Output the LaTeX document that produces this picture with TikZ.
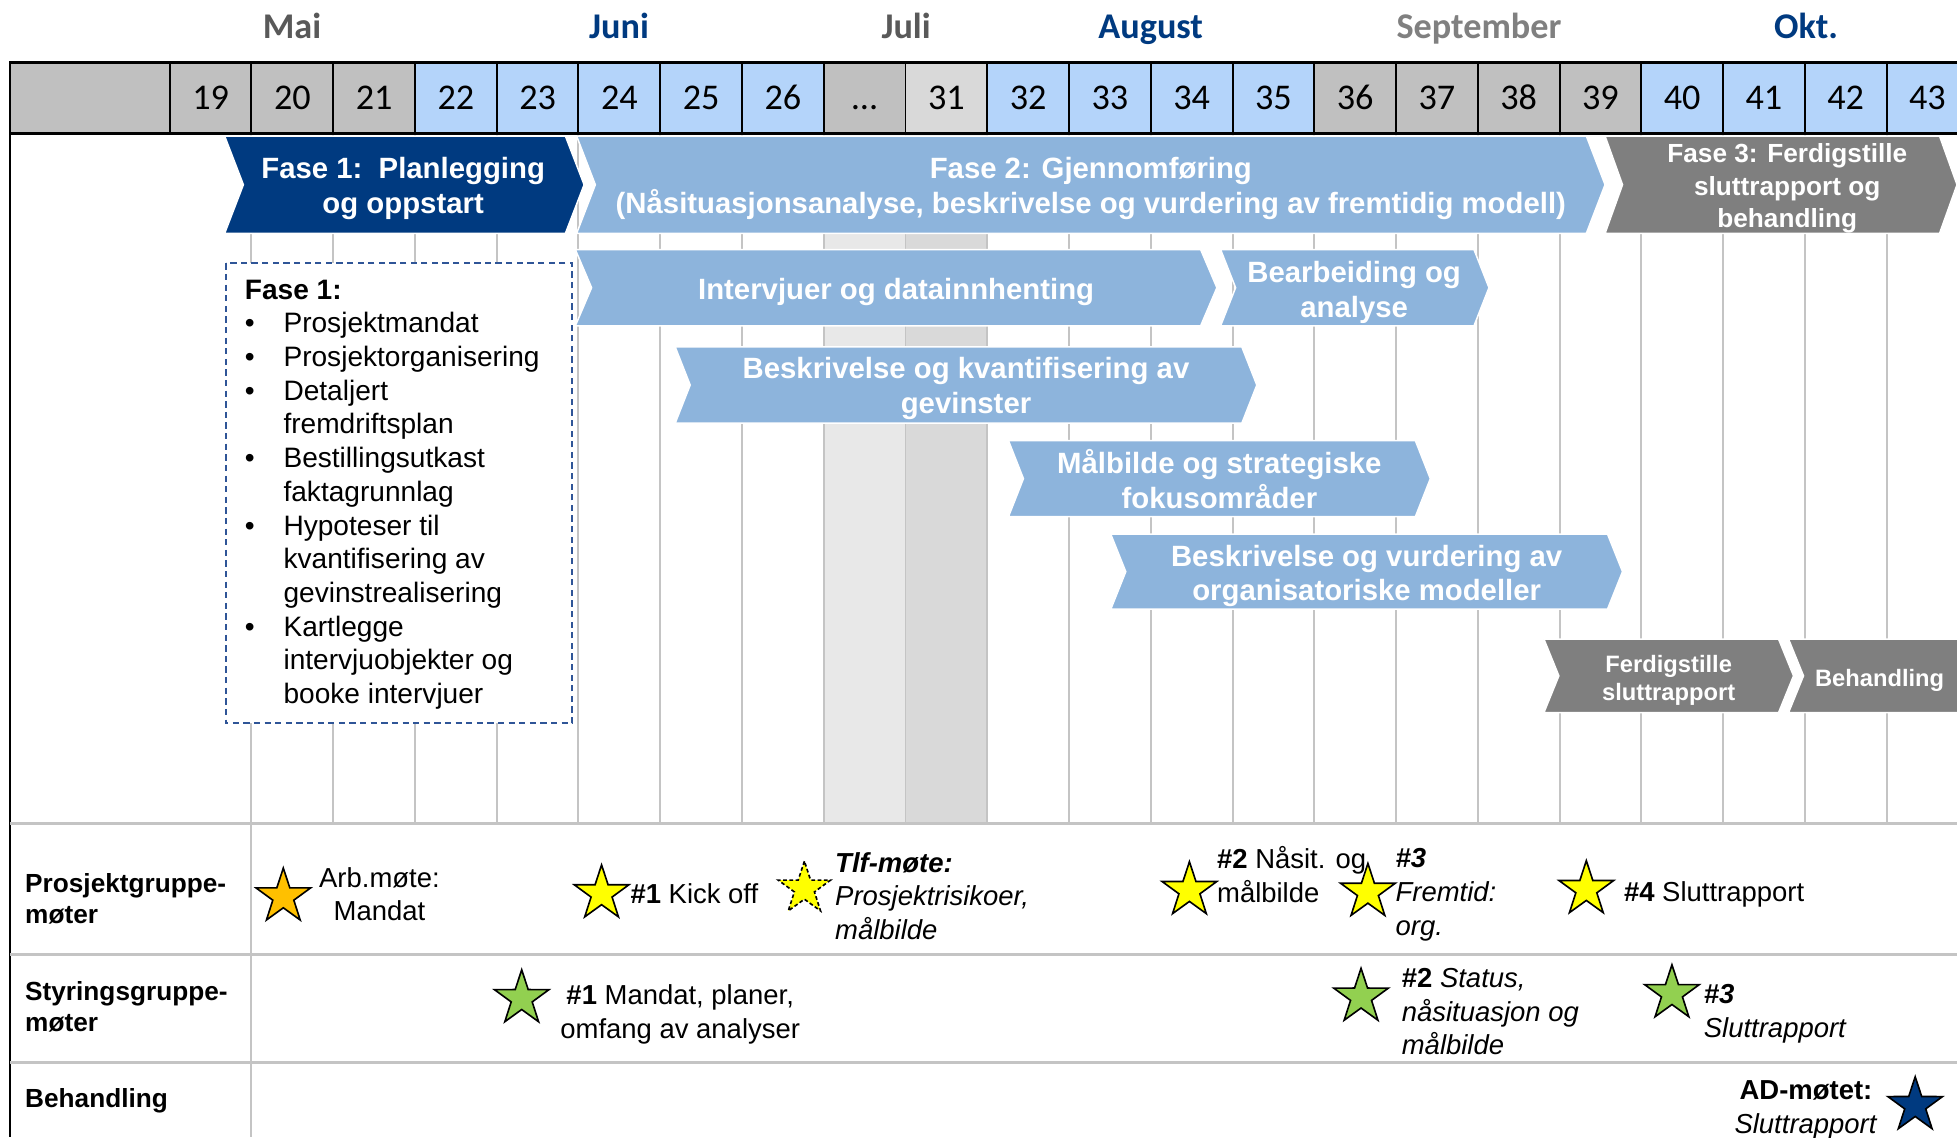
\documentclass[tikz,border=0pt]{standalone}
\usepackage{fontspec}
\setmainfont{Liberation Sans}
\newfontfamily\calibrifont{Carlito}
\usetikzlibrary{shapes.geometric}

\definecolor{PhaseBlue}{HTML}{003A80}
\definecolor{StepBlue}{HTML}{8DB4DC}
\definecolor{StepGray}{HTML}{7F7F7F}
\definecolor{CellGray}{HTML}{C0C0C0}
\definecolor{CellBlue}{HTML}{B4D4FA}
\definecolor{CellLight}{HTML}{D9D9D9}
\definecolor{BandLight}{HTML}{E8E8E8}
\definecolor{GridGray}{HTML}{C4C4C4}
\definecolor{MonthGray}{HTML}{595959}
\definecolor{MonthLight}{HTML}{808080}
\definecolor{StarOrange}{HTML}{FFC000}
\definecolor{StarYellow}{HTML}{FFFF00}
\definecolor{StarGreen}{HTML}{92D050}
\definecolor{BoxBlue}{HTML}{2F5597}

% arrow-shaped bar: left, right, top, bottom, tip depth, colour
\newcommand{\chevron}[6]{%
  \fill[#6, draw=white, line width=1.2] (#1,#3) -- (#2,#3) -- ({#2+#5},{(#3+#4)/2})
    -- (#2,#4) -- (#1,#4) -- ({#1+#5},{(#3+#4)/2}) -- cycle;}

\begin{document}
\begin{tikzpicture}[x=1pt, y=-1pt,
  month/.style={anchor=base, inner sep=0, font=\calibrifont\bfseries\fontsize{29}{34}\selectfont},
  weekno/.style={anchor=base, inner sep=0, font=\calibrifont\fontsize{29}{34}\selectfont},
  phase/.style={inner sep=0, text=white, align=center, font=\bfseries\fontsize{23.5}{28}\selectfont},
  phasesmall/.style={phase, font=\bfseries\fontsize{21}{26}\selectfont},
  stepsmall/.style={phase, font=\bfseries\fontsize{19}{22}\selectfont},
  rowlabel/.style={anchor=west, inner sep=0, align=left, font=\bfseries\fontsize{21}{25}\selectfont},
  meettext/.style={inner sep=0, font=\fontsize{22}{27}\selectfont},
  meetstar/.style={star, star points=5, star point ratio=2.6, minimum size=46, inner sep=0,
    draw=black, line width=1.3},
  grid/.style={GridGray, line width=1.6},
  rowline/.style={GridGray, line width=2.4}]

  \useasboundingbox (0,0) rectangle (1568,911);
  \clip (0,0) rectangle (1568,911);
  \fill[white] (0,0) rectangle (1568,911);

  % holiday weeks
  \fill[BandLight] (660,107) rectangle (725.5,660);
  \fill[CellLight] (725.5,107) rectangle (791,660);

  % week grid
  \foreach \k in {1,...,21}
    \draw[grid] ({201.5+65.5*\k},107) -- ({201.5+65.5*\k},660);
  \draw[grid] (201.5,107) -- (201.5,911);

  % header row with week numbers
  \draw[fill=CellGray, line width=1.6] (8,50) rectangle (136,107);
  \foreach \wk/\fillc [count=\i from 0] in {19/CellGray, 20/CellGray, 21/CellGray,
      22/CellBlue, 23/CellBlue, 24/CellBlue, 25/CellBlue, 26/CellBlue, {\ldots}/CellGray,
      31/CellLight, 32/CellBlue, 33/CellBlue, 34/CellBlue, 35/CellBlue, 36/CellGray,
      37/CellGray, 38/CellGray, 39/CellGray, 40/CellBlue, 41/CellBlue, 42/CellBlue, 43/CellBlue}
  {
    \pgfmathsetmacro\xl{136+65.5*\i}
    \draw[fill=\fillc, line width=1.6] (\xl,50) rectangle ++(65.5,57);
    \node[weekno] (wk\i) at (\xl+32.75,88) {\wk};
  }
  \draw[line width=2.6] (8,50) -- (1568,50);
  \draw[line width=2.6] (8,107) -- (1568,107);
  \draw[line width=1.4] (8,50) -- (8,911);

  % months
  \node[month, text=MonthGray] (mai) at (234,30.5) {Mai};
  \node[month, text=PhaseBlue] (juni) at (496,30.5) {Juni};
  \node[month, text=MonthGray] (juli) at (726,30.5) {Juli};
  \node[month, text=PhaseBlue] (august) at (922,30.5) {August};
  \node[month, text=MonthLight] (september) at (1185,30.5) {September};
  \node[month, text=PhaseBlue] (okt) at (1447,30.5) {Okt.};

  % phases
  \chevron{180}{453}{109}{187}{15}{PhaseBlue}
  \chevron{462}{1271}{109}{187}{15}{StepBlue}
  \chevron{1286}{1554}{109}{187}{14}{StepGray}
  \node[phase] (fase1) at (323,151) {Fase 1:\ \ Planlegging\\og oppstart};
  \node[phase] (fase2) at (874,151) {Fase 2: Gjennomføring\\(Nåsituasjonsanalyse, beskrivelse og vurdering av fremtidig modell)};
  \node[phasesmall] (fase3) at (1432,151) {Fase 3: Ferdigstille\\sluttrapport og\\behandling};

  % activities
  \chevron{461}{962}{200}{261}{13}{StepBlue}
  \chevron{978}{1181}{200}{261}{12}{StepBlue}
  \chevron{541}{995}{278}{339}{12}{StepBlue}
  \chevron{808}{1134}{353}{414}{12}{StepBlue}
  \chevron{890}{1288}{428}{488}{12}{StepBlue}
  \chevron{1237}{1425}{512}{571}{12}{StepGray}
  \chevron{1433}{1610}{512}{571}{12}{StepGray}
  \node[phase] (intervju) at (718,234) {Intervjuer og datainnhenting};
  \node[phase] (bearbeid) at (1085,234) {Bearbeiding og\\analyse};
  \node[phase] (gevinst) at (774,311) {Beskrivelse og kvantifisering av\\gevinster};
  \node[phase] (maalbilde) at (977,384) {Målbilde og strategiske\\fokusområder};
  \node[phase] (orgmodell) at (1095,461.5) {Beskrivelse og vurdering av\\organisatoriske modeller};
  \node[stepsmall] (ferdig) at (1337,545) {Ferdigstille\\sluttrapport};
  \node[stepsmall] (behandl) at (1506,545) {Behandling};

  % phase 1 checklist
  \draw[BoxBlue, fill=white, line width=1.4, dash pattern=on 5pt off 3.5pt] (181,211) rectangle (458.5,579.5);
  \node[anchor=north west, inner sep=0, align=left, font=\fontsize{22.5}{27}\selectfont] (liste) at (196,224)
    {\textbf{Fase 1:}\\
     \makebox[31pt][l]{•}Prosjektmandat\\
     \makebox[31pt][l]{•}Prosjektorganisering\\
     \makebox[31pt][l]{•}Detaljert\\
     \hspace*{31pt}fremdriftsplan\\
     \makebox[31pt][l]{•}Bestillingsutkast\\
     \hspace*{31pt}faktagrunnlag\\
     \makebox[31pt][l]{•}Hypoteser til\\
     \hspace*{31pt}kvantifisering av\\
     \hspace*{31pt}gevinstrealisering\\
     \makebox[31pt][l]{•}Kartlegge\\
     \hspace*{31pt}intervjuobjekter og\\
     \hspace*{31pt}booke intervjuer};

  % meeting rows
  \draw[rowline] (8,660) -- (1568,660);
  \draw[rowline] (8,765) -- (1568,765);
  \draw[rowline] (8,851) -- (1568,851);
  \node[rowlabel] (prosjektgr) at (20,720) {Prosjektgruppe-\\møter};
  \node[rowlabel] (styringsgr) at (20,806.5) {Styringsgruppe-\\møter};
  \node[rowlabel] (behandling) at (20,882) {Behandling};

  % project group meetings
  \node[meetstar, fill=StarOrange] (pgstar0) at (227,718.5) {};
  \node[meetstar, fill=StarYellow] (pgstar1) at (482,716) {};
  \node[meetstar, fill=StarYellow, dash pattern=on 3pt off 2pt, minimum size=44] (pgtlf) at (644.5,712) {};
  \node[meetstar, fill=StarYellow] (pgstar2) at (953,713.4) {};
  \node[meetstar, fill=StarYellow] (pgstar3) at (1096,714.8) {};
  \node[meetstar, fill=StarYellow] (pgstar4) at (1271,712.6) {};
  \node[meettext, align=center] (arbmote) at (304,716.5) {Arb.møte:\\Mandat};
  \node[meettext, anchor=west] (kickoff) at (505,716) {\textbf{\#1} Kick off};
  \node[meettext, anchor=west, align=left] (tlfmote) at (669,718) {\textbf{\textit{Tlf-møte:}}\\\textit{Prosjektrisikoer,}\\\textit{målbilde}};
  \node[meettext, anchor=west, align=left] (pgmote2) at (975,700.5) {\textbf{\#2} Nåsit. og\\målbilde};
  \node[meettext, anchor=west, align=left] (pgmote3) at (1118,717) {\textbf{\textit{\#3}}\\\textit{Fremtid:}\\\textit{org.}};
  \node[meettext, anchor=west] (pgmote4) at (1301,716.5) {\textbf{\#4} Sluttrapport};

  % steering group meetings
  \node[meetstar, fill=StarGreen] (sgstar1) at (418,800) {};
  \node[meetstar, fill=StarGreen] (sgstar2) at (1090.5,798.8) {};
  \node[meetstar, fill=StarGreen] (sgstar3) at (1339.6,796) {};
  \node[meettext, align=center] (sgmote1) at (545,812.5) {\textbf{\#1} Mandat, planer,\\omfang av analyser};
  \node[meettext, anchor=west, align=left] (sgmote2) at (1123,810.5) {\textbf{\#2} \textit{Status,}\\\textit{nåsituasjon og}\\\textit{målbilde}};
  \node[meettext, anchor=west, align=left] (sgmote3) at (1365,812.5) {\textbf{\textit{\#3}}\\\textit{Sluttrapport}};

  % final handling
  \node[meetstar, fill=PhaseBlue] (adstar) at (1534.5,885.7) {};
  \node[meettext, align=center] (admote) at (1447,889) {\textbf{AD-møtet:}\\\textit{Sluttrapport}};
\end{tikzpicture}
\end{document}
